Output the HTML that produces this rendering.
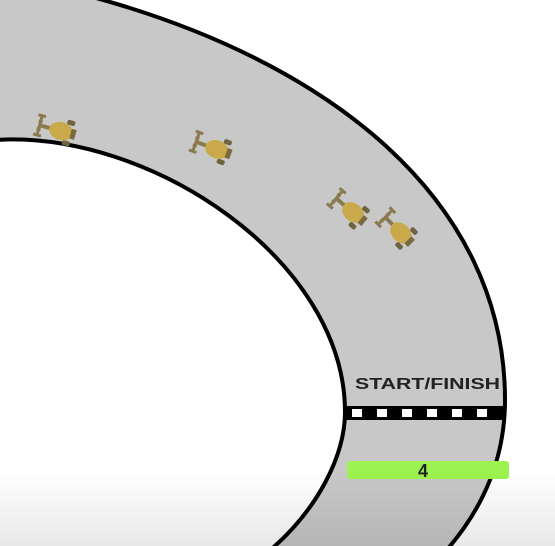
<!DOCTYPE html>
<html><head><meta charset="utf-8"><style>html,body{margin:0;padding:0;background:#fff}svg{display:block}</style></head>
<body>
<svg width="555" height="546" viewBox="0 0 555 546">
<defs>
<linearGradient id="fade" x1="0" y1="0" x2="0" y2="1"><stop offset="0" stop-color="#000" stop-opacity="0"/><stop offset="1" stop-color="#000" stop-opacity="0.09"/></linearGradient>
<g id="car">
<path d="M-22,-10 L-14,-10 M-18,-10 L-18,10 M-22,10 L-14,10 M-20,-4 L-16,-4 M-20,4 L-16,4" stroke="#8a7a50" stroke-width="3" fill="none"/>
<rect x="-18" y="-2" width="14" height="4" fill="#8a7a50"/>
<ellipse cx="4" cy="0" rx="12" ry="9" fill="#c9a94a"/>
<rect x="8" y="-13" width="8" height="5" rx="2" fill="#6f6342"/>
<rect x="8" y="8" width="8" height="5" rx="2" fill="#6f6342"/>
<rect x="14" y="-5" width="5" height="10" fill="#7a6a40"/>
</g>
</defs>
<rect width="555" height="546" fill="#fff"/>
<path d="M85,-5 C330,60 505,200 505,400 C505,460 482,510 445,552 L268,552 C318,510 345,455 345,412 C345,260 150,130 -5,140 L-5,-5 Z" fill="#c8c8c8"/>
<path d="M85,-5 C330,60 505,200 505,400 C505,460 482,510 445,552" fill="none" stroke="#000" stroke-width="4"/>
<path d="M-5,140 C150,130 345,260 345,412 C345,455 318,510 268,552" fill="none" stroke="#000" stroke-width="4"/>
<g>
<rect x="345" y="406" width="158" height="14" fill="#000"/>
<rect x="352" y="409" width="10" height="8" fill="#fff"/>
<rect x="377" y="409" width="10" height="8" fill="#fff"/>
<rect x="402" y="409" width="10" height="8" fill="#fff"/>
<rect x="427" y="409" width="10" height="8" fill="#fff"/>
<rect x="452" y="409" width="10" height="8" fill="#fff"/>
<rect x="477" y="409" width="10" height="8" fill="#fff"/>
</g>
<text x="355" y="389" textLength="145" lengthAdjust="spacingAndGlyphs" font-family="Liberation Sans, sans-serif" font-weight="bold" font-size="16" fill="#222">START/FINISH</text>
<rect x="347" y="461" width="162" height="18" rx="3" fill="#9cf24e"/>
<text x="423" y="477" text-anchor="middle" font-family="Liberation Sans, sans-serif" font-weight="bold" font-size="18" fill="#222">4</text>
<use href="#car" transform="translate(57,130) rotate(15)"/>
<use href="#car" transform="translate(213,148) rotate(20)"/>
<use href="#car" transform="translate(350,210) rotate(40)"/>
<use href="#car" transform="translate(398,230) rotate(45)"/>
<rect x="0" y="470" width="555" height="76" fill="url(#fade)"/>
</svg>
</body></html>
